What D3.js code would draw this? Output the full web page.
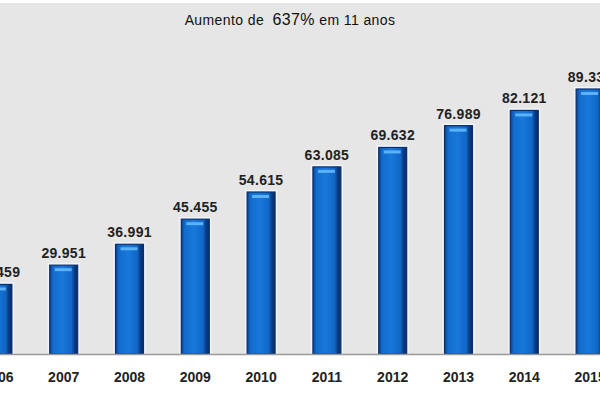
<!DOCTYPE html>
<html>
<head>
<meta charset="utf-8">
<script src="https://cdn.jsdelivr.net/npm/d3@7"></script>
<style>
  html, body { margin: 0; padding: 0; background: #fff; }
  svg { display: block; }
</style>
</head>
<body>
<svg id="chart"></svg>
<script>
// dados
var anos = ["2006", "2007", "2008", "2009", "2010", "2011", "2012", "2013", "2014", "2015"];
var valores = [23.459, 29.951, 36.991, 45.455, 54.615, 63.085, 69.632, 76.989, 82.121, 89.339];
var rotulos = ["23.459", "29.951", "36.991", "45.455", "54.615", "63.085", "69.632", "76.989", "82.121", "89.339"];

var width = 600, height = 396;
var baseY = 354;

var svg = d3.select("#chart")
    .attr("width", width)
    .attr("height", height);

// fundo
svg.append("rect")
    .attr("x", 0).attr("y", 3)
    .attr("width", width).attr("height", baseY - 3)
    .attr("fill", "#e6e6e6");

// gradientes das barras
var defs = svg.append("defs");
var grad = defs.append("linearGradient")
    .attr("id", "barra")
    .attr("x1", "0%").attr("x2", "100%").attr("y1", "0%").attr("y2", "0%");
grad.append("stop").attr("offset", "0%").attr("stop-color", "#0b3f8f");
grad.append("stop").attr("offset", "12%").attr("stop-color", "#126ccc");
grad.append("stop").attr("offset", "45%").attr("stop-color", "#1878da");
grad.append("stop").attr("offset", "78%").attr("stop-color", "#1066c6");
grad.append("stop").attr("offset", "88%").attr("stop-color", "#0c3c86");
grad.append("stop").attr("offset", "100%").attr("stop-color", "#082c66");

// escalas
var x = d3.scaleBand()
    .domain(anos)
    .range([-35, 623])
    .paddingInner(0.575)
    .paddingOuter(0.2875);

var y = d3.scaleLinear()
    .domain([0, 89.339])
    .range([baseY, 89]);

var dados = anos.map(function(a, i) { return {ano: a, v: valores[i], rot: rotulos[i]}; });

var g = svg.append("g");

// brilho branco em volta
g.selectAll("rect.glow")
    .data(dados)
  .enter().append("rect")
    .attr("class", "glow")
    .attr("x", function(d) { return x(d.ano) - 2; })
    .attr("y", function(d) { return y(d.v) - 2; })
    .attr("width", x.bandwidth() + 4)
    .attr("height", function(d) { return baseY - y(d.v) + 2; })
    .attr("fill", "#f4f6fb");

// barras
g.selectAll("rect.bar")
    .data(dados)
  .enter().append("rect")
    .attr("class", "bar")
    .attr("x", function(d) { return x(d.ano); })
    .attr("y", function(d) { return y(d.v); })
    .attr("width", x.bandwidth())
    .attr("height", function(d) { return baseY - y(d.v); })
    .attr("fill", "url(#barra)")
    .attr("stroke", "#0a2f6a")
    .attr("stroke-width", 1.2);

// faixa clara no topo
g.selectAll("rect.hl")
    .data(dados)
  .enter().append("rect")
    .attr("class", "hl")
    .attr("x", function(d) { return x(d.ano) + 5; })
    .attr("y", function(d) { return y(d.v) + 3; })
    .attr("width", x.bandwidth() - 11)
    .attr("height", 3)
    .attr("fill", "#5cb2f6");

// linha base
svg.append("line")
    .attr("x1", 0).attr("x2", width)
    .attr("y1", baseY + 0.5).attr("y2", baseY + 0.5)
    .attr("stroke", "#9a9a9a")
    .attr("stroke-width", 1.5);

// valores
g.selectAll("text.val")
    .data(dados)
  .enter().append("text")
    .attr("class", "val")
    .attr("x", function(d) { return x(d.ano) + x.bandwidth() / 2; })
    .attr("y", function(d) { return y(d.v) - 7; })
    .attr("text-anchor", "middle")
    .style("font-family", "Liberation Sans, Arial, sans-serif")
    .style("font-weight", "bold")
    .style("font-size", "14px")
    .style("letter-spacing", "0.3px")
    .style("fill", "#222")
    .text(function(d) { return d.rot; });

// eixo x
var eixo = svg.append("g")
    .attr("transform", "translate(0," + baseY + ")")
    .call(d3.axisBottom(x).tickSize(0).tickPadding(18));
eixo.select(".domain").remove();
eixo.selectAll("text")
    .style("font-family", "Liberation Sans, Arial, sans-serif")
    .style("font-weight", "bold")
    .style("font-size", "14px")
    .style("fill", "#222");

// título
var titulo = svg.append("text")
    .attr("x", 290)
    .attr("y", 25)
    .attr("text-anchor", "middle")
    .style("font-family", "Liberation Sans, Arial, sans-serif")
    .style("letter-spacing", "0.4px")
    .style("fill", "#111");
titulo.append("tspan").style("font-size", "14px").text("Aumento de ");
titulo.append("tspan").style("font-size", "16px").attr("dx", 4).text("637%");
titulo.append("tspan").style("font-size", "14px").text(" em 11 anos");
</script>
</body>
</html>
